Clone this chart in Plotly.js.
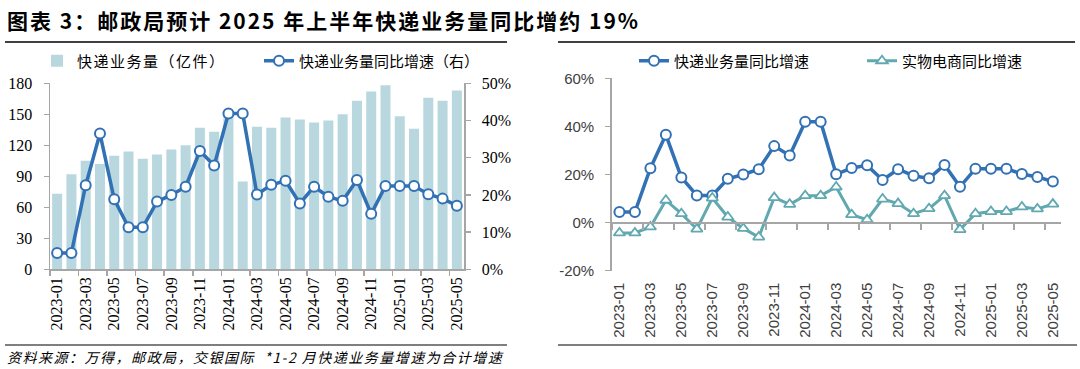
<!DOCTYPE html>
<html><head><meta charset="utf-8">
<script src="https://cdn.plot.ly/plotly-3.0.1.min.js"></script>
<style>
html,body{margin:0;padding:0;background:#fff}
#chart{width:1080px;height:369px}
.gtitle{letter-spacing:2px}
.legendtext{letter-spacing:1.5px}
.annotation-text{letter-spacing:1.5px}
</style>
</head><body><div id="chart"></div>
<script>
const months = ['2023-01','2023-02','2023-03','2023-04','2023-05','2023-06','2023-07','2023-08','2023-09','2023-10','2023-11','2023-12',
  '2024-01','2024-02','2024-03','2024-04','2024-05','2024-06','2024-07','2024-08','2024-09','2024-10','2024-11','2024-12',
  '2025-01','2025-02','2025-03','2025-04','2025-05'];
// 快递业务量（亿件）
const volume = [73, 92, 105, 102, 110, 114, 107, 111, 116, 120, 137, 133,
  150, 85, 138, 137, 147, 145, 142, 144, 150, 163, 172, 178,
  148, 136, 166, 163, 173];
// 快递业务量同比增速（%）
const expressGrowth = [4.4, 4.4, 22.6, 36.5, 18.8, 11.3, 11.3, 18.2, 20.0, 22.2, 31.8, 27.9,
  41.9, 41.9, 20.1, 22.7, 23.8, 17.7, 22.2, 19.5, 18.4, 24.0, 14.9, 22.4,
  22.4, 22.4, 20.2, 19.0, 17.1];
// 实物电商同比增速（%）
const ecomGrowth = [-4.3, -4.3, -1.8, 9.3, 3.7, -2.7, 10.2, 2.3, -2.4, -6.0, 10.4, 7.6,
  11.2, 11.2, 14.8, 3.3, 1.2, 9.8, 7.9, 3.7, 5.8, 11.2, -2.9, 3.7,
  4.6, 4.6, 6.5, 5.7, 7.7];

// right-panel y tick values / labels
const rightTickVals = [-20, 0, 20, 40, 60];
const rightTickText = ['-20%', '0%', '20%', '40%', '60%'];

const legendVolume = '快递业务量（亿件）';
const legendGrowthRight = '快递业务量同比增速（右）';
const legendGrowth = '快递业务量同比增速';
const legendEcom = '实物电商同比增速';
const titleText = '图表 3：邮政局预计 2025 年上半年快递业务量同比增约 19%';
const sourceText = '资料来源：万得，邮政局，交银国际  *1-2 月快递业务量增速为合计增速';

const W = 1080, H = 369;
const fx = v => v / W, fy = v => 1 - v / H;

const blue = '#3271b4', teal = '#61a8b0', barCol = '#b8d7de', axCol = '#a6a6a6';
const cjk = 'Noto Sans CJK SC, sans-serif';
const serif = 'Liberation Serif, serif';
const sans = 'Liberation Sans, sans-serif';

const yR = [-20, 60];
const rDom = [fy(270.7), fy(78.3)];
const zeroPos = rDom[0] + (rDom[1] - rDom[0]) * (0 - yR[0]) / (yR[1] - yR[0]);

const traces = [
  {type: 'bar', x: months, y: volume, name: legendVolume, marker: {color: barCol},
   xaxis: 'x', yaxis: 'y', legend: 'legend', hoverinfo: 'skip'},
  {type: 'scatter', mode: 'lines+markers', x: months, y: expressGrowth, name: legendGrowthRight,
   line: {color: blue, width: 3.5}, marker: {symbol: 'circle', size: 10, color: '#fff', line: {color: blue, width: 2}},
   xaxis: 'x', yaxis: 'y2', legend: 'legend2', hoverinfo: 'skip'},
  {type: 'scatter', mode: 'lines+markers', x: months, y: expressGrowth, name: legendGrowth,
   line: {color: blue, width: 3.5}, marker: {symbol: 'circle', size: 10, color: '#fff', line: {color: blue, width: 2}},
   xaxis: 'x2', yaxis: 'y3', legend: 'legend3', hoverinfo: 'skip'},
  {type: 'scatter', mode: 'lines+markers', x: months, y: ecomGrowth, name: legendEcom,
   line: {color: teal, width: 3}, marker: {symbol: 'triangle-up', size: 10, color: '#fff', line: {color: teal, width: 1.8}},
   xaxis: 'x3', yaxis: 'y3', legend: 'legend4', hoverinfo: 'skip'}
];

const catRange = [-0.5, months.length - 0.5];
const legFont = {family: cjk, size: 15, color: '#000'};
const mkLegend = (x) => ({orientation: 'h', x: fx(x), xanchor: 'left', y: fy(61), yanchor: 'middle',
  bgcolor: 'rgba(0,0,0,0)', font: legFont, itemclick: false});

const layout = {
  width: W, height: H, margin: {l: 0, r: 0, t: 0, b: 0},
  paper_bgcolor: '#fff', plot_bgcolor: 'rgba(0,0,0,0)',
  bargap: 0.3, showlegend: true,
  title: {text: titleText, x: fx(7), xanchor: 'left', xref: 'paper', y: 1 - 22 / H, yref: 'container', yanchor: 'middle',
    font: {family: cjk, size: 21, color: '#000', weight: 'bold'}},
  xaxis: {type: 'category', domain: [fx(50), fx(464)], anchor: 'y', range: catRange,
    tickmode: 'linear', tick0: 0, dtick: 2, tickson: 'boundaries', ticks: 'outside', ticklen: 5, tickcolor: axCol, tickwidth: 1.5,
    showline: true, linecolor: axCol, linewidth: 1.5, showgrid: false, tickangle: -90,
    tickfont: {family: serif, size: 16, color: '#000'}},
  yaxis: {domain: [fy(269.3), fy(83.3)], anchor: 'x', range: [0, 180], dtick: 30, ticks: 'outside', ticklen: 5,
    tickcolor: axCol, tickwidth: 1.5, showline: true, linecolor: axCol, linewidth: 1.5, showgrid: false, zeroline: false,
    ticklabelstandoff: 8, tickfont: {family: serif, size: 16, color: '#000'}},
  yaxis2: {overlaying: 'y', side: 'right', anchor: 'x', range: [0, 50], dtick: 10, ticksuffix: '%', ticks: 'outside', ticklen: 5,
    tickcolor: axCol, tickwidth: 1.5, showline: true, linecolor: axCol, linewidth: 1.5, showgrid: false, zeroline: false,
    ticklabelstandoff: 8, tickfont: {family: serif, size: 16, color: '#000'}},
  xaxis2: {type: 'category', domain: [fx(611.7), fx(1060.6)], anchor: 'y3', range: catRange,
    tickmode: 'linear', tick0: 0, dtick: 2, ticks: '', showline: false, showgrid: false, tickangle: -90,
    ticklabelstandoff: 8, tickfont: {family: sans, size: 15, color: '#404040'}},
  xaxis3: {type: 'category', overlaying: 'x2', anchor: 'free', position: zeroPos, range: catRange,
    tickmode: 'linear', tick0: 0, dtick: 2, tickson: 'boundaries', ticks: 'outside', ticklen: 6, tickcolor: axCol, tickwidth: 2,
    showline: true, linecolor: axCol, linewidth: 2.5, showgrid: false, showticklabels: false},
  yaxis3: {domain: rDom, anchor: 'x2', range: yR, tickmode: 'array', tickvals: rightTickVals, ticktext: rightTickText,
    ticks: 'outside', ticklen: 5,
    tickcolor: axCol, tickwidth: 1.5, showline: true, linecolor: axCol, linewidth: 1.5, showgrid: false, zeroline: false,
    ticklabelstandoff: 8, tickfont: {family: sans, size: 15, color: '#404040'}},
  legend: mkLegend(37),
  legend2: mkLegend(259),
  legend3: mkLegend(634),
  legend4: mkLegend(862),
  shapes: [
    {type: 'line', xref: 'paper', yref: 'paper', x0: fx(5), x1: fx(507), y0: fy(42), y1: fy(42), line: {color: '#000', width: 1.5}},
    {type: 'line', xref: 'paper', yref: 'paper', x0: fx(558), x1: fx(1075), y0: fy(42), y1: fy(42), line: {color: '#000', width: 1.5}},
    {type: 'line', xref: 'paper', yref: 'paper', x0: fx(5), x1: fx(507), y0: fy(345), y1: fy(345), line: {color: '#000', width: 1.2}},
    {type: 'line', xref: 'paper', yref: 'paper', x0: fx(558), x1: fx(1077), y0: fy(345), y1: fy(345), line: {color: '#000', width: 1.2}}
  ],
  annotations: [
    {text: '<i>' + sourceText + '</i>', xref: 'paper', yref: 'paper', x: fx(5), y: fy(357), xanchor: 'left', yanchor: 'middle',
     showarrow: false, font: {family: cjk, size: 14, color: '#000'}}
  ]
};

Plotly.newPlot('chart', traces, layout, {staticPlot: true, displayModeBar: false});
</script></body></html>
